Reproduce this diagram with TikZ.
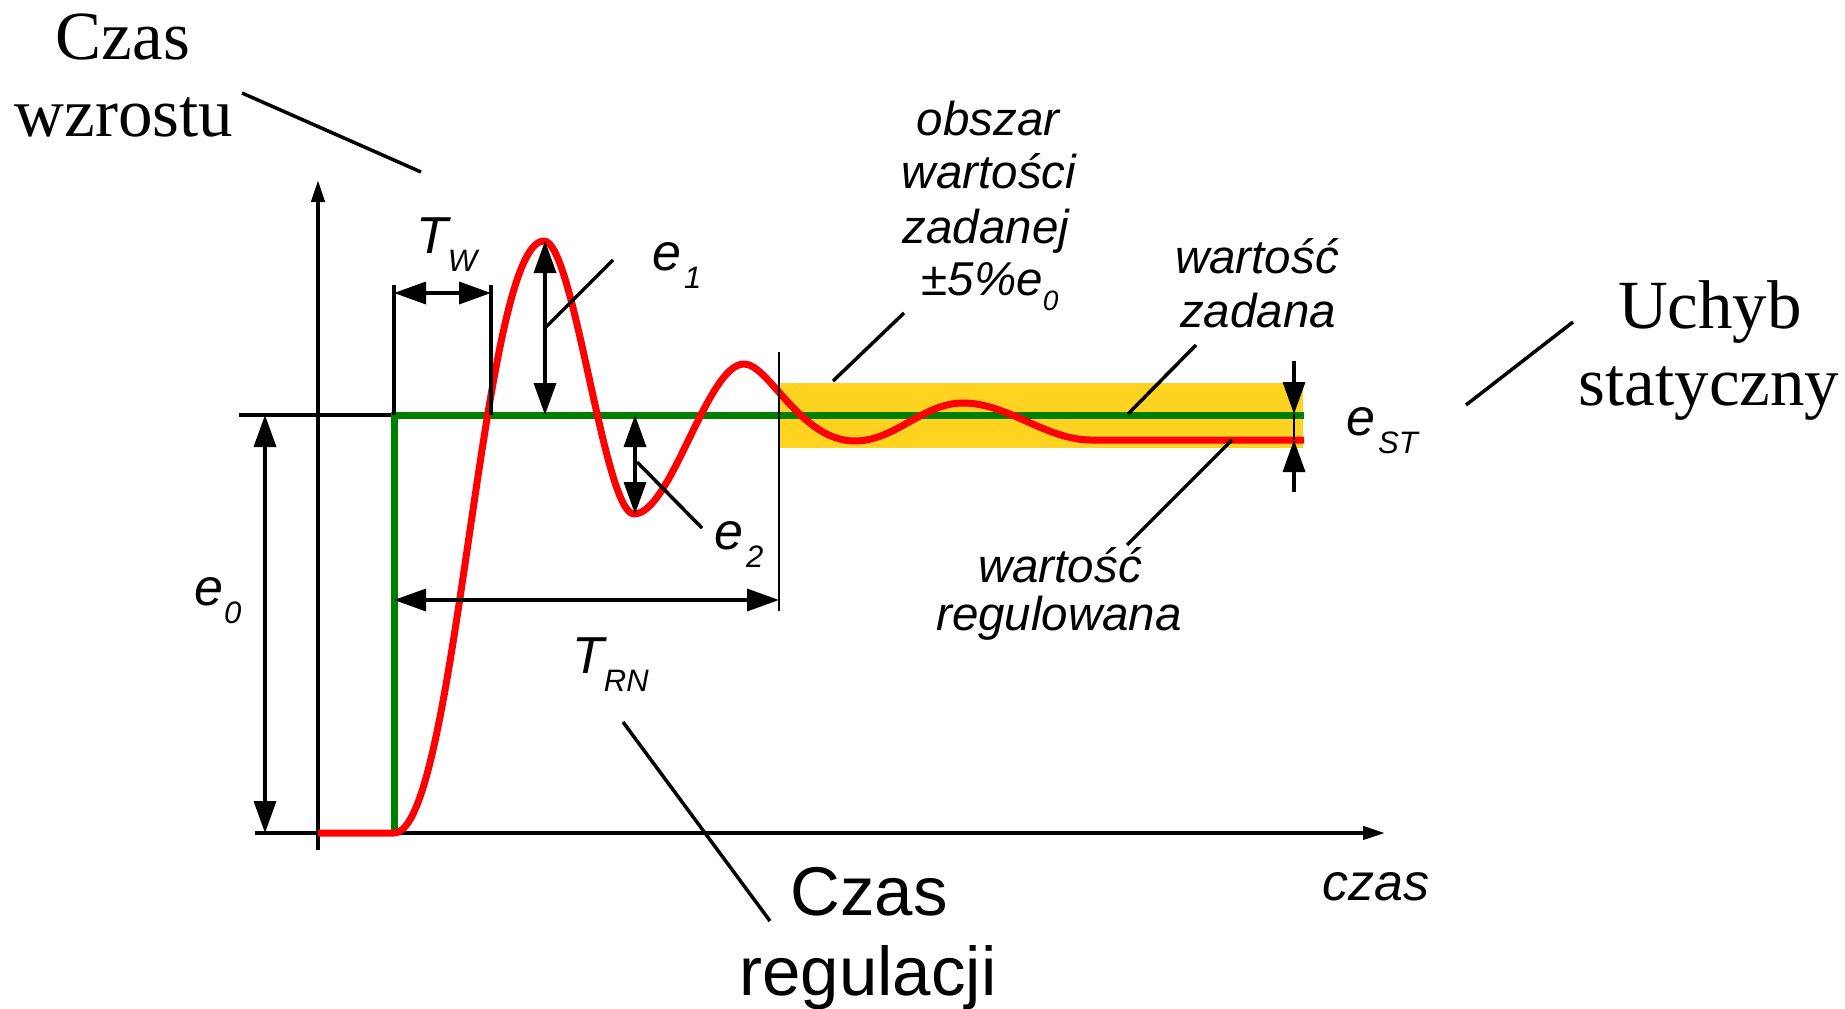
\documentclass[tikz,border=0pt]{standalone}
\usepackage{fontspec}
\setmainfont{Liberation Sans}
\newfontfamily\serifLS{Liberation Serif}
\usetikzlibrary{arrows.meta}
\definecolor{curvered}{RGB}{255,0,0}
\definecolor{setgreen}{RGB}{0,128,0}
\definecolor{bandyellow}{RGB}{255,211,32}
\newcommand\sublbl[1]{\raisebox{-18pt}{\fontsize{31}{31}\selectfont #1}}
\newcommand\sublblsmall[1]{\raisebox{-15pt}{\fontsize{28}{28}\selectfont #1}}
\tikzset{
  dimtip/.tip={Triangle[length=32pt,width=22pt]},
  axistip/.tip={Triangle[length=22pt,width=13pt]},
  axisline/.style={line width=4pt,black},
  dimline/.style={line width=3.5pt,black},
  thinline/.style={line width=2.2pt,black},
  leader/.style={line width=3.5pt,black},
  redcurve/.style={line width=7pt,curvered,line join=round},
  greenline/.style={line width=7pt,setgreen},
  serifbig/.style={font=\serifLS\fontsize{69}{69}\selectfont,inner sep=0pt,anchor=base},
  sansbig/.style={font=\fontsize{69}{69}\selectfont,inner sep=0pt,anchor=base},
  itlabel/.style={font=\fontsize{47.5}{47.5}\selectfont\itshape,inner sep=0pt,anchor=base},
  czaslabel/.style={font=\fontsize{52}{52}\selectfont\itshape,inner sep=0pt,anchor=base},
  mathlbl/.style={font=\fontsize{52}{52}\selectfont\itshape,inner sep=0pt,anchor=base west},
}
\begin{document}
\begin{tikzpicture}[x=1pt,y=-1pt]
\useasboundingbox (0,0) rectangle (1845,1009);
% band
\fill[bandyellow] (780,383) rectangle (1303,448);
% key coordinates
\coordinate (origin) at (318,833);
\coordinate (yaxbot) at (318,850);
\coordinate (yaxtop) at (318,180);
\coordinate (xaxstart) at (255,833);
\coordinate (xaxend) at (1385,833);
\coordinate (tickL) at (239,415);
\coordinate (stepbot) at (394,833);
\coordinate (steptop) at (394,415);
\coordinate (setend) at (1304,415);
% axes
\draw[axisline,-axistip] (yaxbot) -- (yaxtop);
\draw[axisline,-axistip] (xaxstart) -- (xaxend);
\draw[dimline] (tickL) -- (steptop);
% green set value
\draw[greenline] (stepbot) -- (steptop) -- (setend);
% red controlled value
\draw[redcurve] (origin) -- (stepbot)
  .. controls (457,833) and (481,241) .. (544,241)
  .. controls (574,241) and (604,514) .. (634,514)
  .. controls (671,514) and (707,364) .. (744,364)
  .. controls (769,364) and (800,441) .. (855,441)
  .. controls (895,441) and (923,403) .. (963,403)
  .. controls (1008,403) and (1046,440) .. (1091,440)
  -- (1304,440);
% T_W dimension
\coordinate (twL) at (394,285);
\coordinate (twR) at (491,285);
\coordinate (twRb) at (491,415);
\coordinate (twaL) at (394,293);
\coordinate (twaR) at (491,293);
\draw[dimline] (twL) -- (steptop);
\draw[dimline] (twR) -- (twRb);
\draw[dimline,dimtip-dimtip] (twaL) -- (twaR);
% e0
\coordinate (e0t) at (265,415);
\coordinate (e0b) at (265,833);
\draw[dimline,dimtip-dimtip] (e0t) -- (e0b);
% e1
\coordinate (e1t) at (545,241);
\coordinate (e1b) at (545,415);
\draw[dimline,dimtip-dimtip] (e1t) -- (e1b);
% e2
\coordinate (e2t) at (635,415);
\coordinate (e2b) at (635,514);
\draw[dimline,dimtip-dimtip] (e2t) -- (e2b);
% T_RN
\coordinate (trnT) at (779,352);
\coordinate (trnB) at (779,611);
\coordinate (trnL) at (394,600);
\coordinate (trnR) at (779,600);
\draw[thinline] (trnT) -- (trnB);
\draw[dimline,dimtip-dimtip] (trnL) -- (trnR);
% e_ST
\coordinate (estA) at (1294,361);
\coordinate (estB) at (1294,414);
\coordinate (estC) at (1294,440);
\coordinate (estD) at (1294,492);
\draw[dimline,-dimtip] (estA) -- (estB);
\draw[dimline,-dimtip] (estD) -- (estC);
\draw[line width=2.5pt] (estB) -- (estC);
% leader lines
\coordinate (lcw1) at (242,93);  \coordinate (lcw2) at (421,172);
\coordinate (lcr1) at (623,722); \coordinate (lcr2) at (770,921);
\coordinate (le11) at (545,328); \coordinate (le12) at (613,260);
\coordinate (le21) at (637,462); \coordinate (le22) at (702,528);
\coordinate (lob1) at (833,381); \coordinate (lob2) at (904,313);
\coordinate (lwz1) at (1128,414); \coordinate (lwz2) at (1196,345);
\coordinate (lwr1) at (1232,440); \coordinate (lwr2) at (1127,545);
\coordinate (lus1) at (1466,405); \coordinate (lus2) at (1573,322);
\draw[leader] (lcw1) -- (lcw2);
\draw[leader] (lcr1) -- (lcr2);
\draw[leader] (le11) -- (le12);
\draw[leader] (le21) -- (le22);
\draw[leader] (lob1) -- (lob2);
\draw[leader] (lwz1) -- (lwz2);
\draw[leader] (lwr1) -- (lwr2);
\draw[leader] (lus1) -- (lus2);
% big labels
\node[serifbig] (cw1) at (123,59) {Czas};
\node[serifbig] (cw2) at (124,136) {wzrostu};
\node[serifbig] (us1) at (1710,328) {Uchyb};
\node[serifbig] (us2) at (1709,405) {statyczny};
\node[sansbig] (cr1) at (869,915) {Czas};
\node[sansbig] (cr2) at (868,995) {regulacji};
% italic labels
\node[itlabel] (ob1) at (988,135) {obszar};
\node[itlabel] (ob2) at (989,188) {wartości};
\node[itlabel] (ob3) at (986,243) {zadanej};
\node[itlabel] (ob4) at (990,295) {±5\%e\sublblsmall{0}};
\node[itlabel] (wz1) at (1257,273) {wartość};
\node[itlabel] (wz2) at (1258,327) {zadana};
\node[itlabel] (wr1) at (1060,582) {wartość};
\node[itlabel] (wr2) at (1059,630) {regulowana};
\node[czaslabel] (cz) at (1376,900) {czas};
% math labels
\node[mathlbl] (lTw) at (416,253) {T\sublbl{W}};
\node[mathlbl] (le1) at (652,270) {e\kern3pt\sublbl{1}};
\node[mathlbl] (le2) at (714,549) {e\kern3pt\sublbl{2}};
\node[mathlbl] (le0) at (194,605) {e\kern1pt\sublbl{0}};
\node[mathlbl] (lTrn) at (572,673) {T\sublbl{RN}};
\node[mathlbl] (lest) at (1346,435) {e\kern3pt\sublbl{ST}};
\end{tikzpicture}
\end{document}
